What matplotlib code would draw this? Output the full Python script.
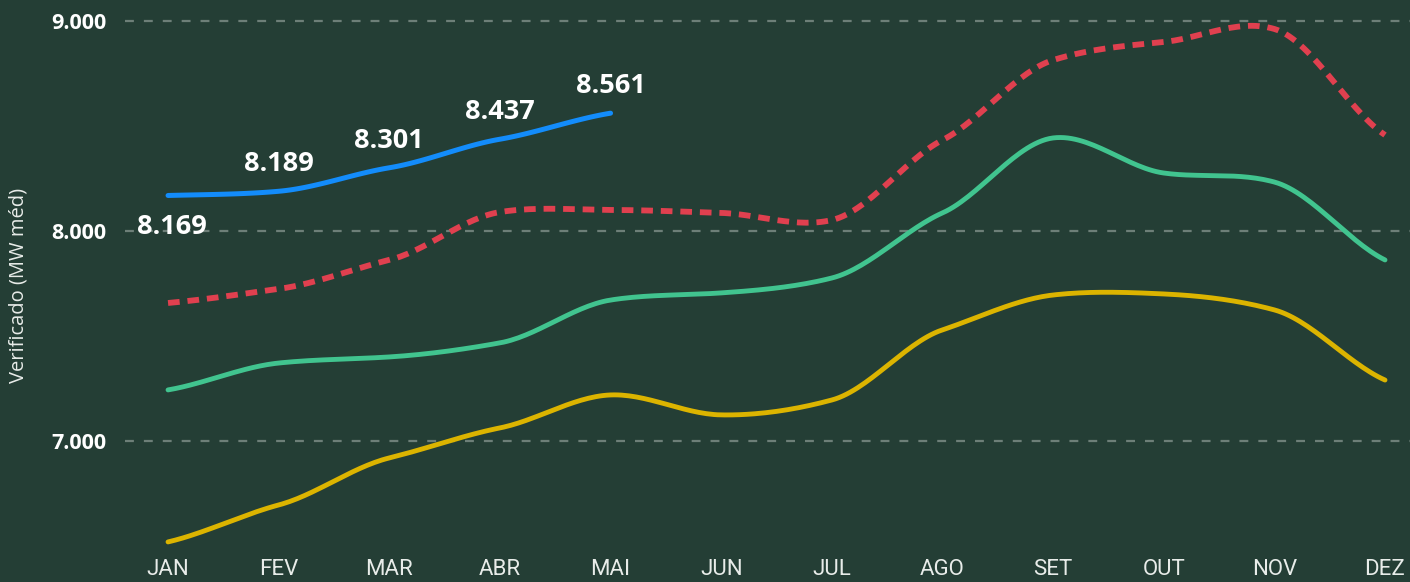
import matplotlib
matplotlib.use("Agg")
import matplotlib.pyplot as plt
import numpy as np

months = ["JAN", "FEV", "MAR", "ABR", "MAI", "JUN", "JUL", "AGO", "SET", "OUT", "NOV", "DEZ"]

verificado = [8169, 8189, 8301, 8437, 8561]
maximo = [7657, 7724, 7862, 8090, 8100, 8086, 8052, 8433, 8814, 8900, 8962, 8457]
medio = [7243, 7371, 7400, 7467, 7671, 7705, 7776, 8086, 8443, 8276, 8233, 7862]
minimo = [6519, 6695, 6919, 7062, 7219, 7124, 7195, 7529, 7695, 7700, 7624, 7290]

yticks = [7000, 8000, 9000]

BG = "#243e35"


def smooth(y, n=30, k=0.7):
    # cubic Hermite curve through the monthly points (drawing only)
    y = np.asarray(y, float)
    x = np.arange(len(y))
    m = np.gradient(y) * k
    xs, ys = [], []
    for i in range(len(y) - 1):
        t = np.linspace(0, 1, n, endpoint=False)
        h00 = 2 * t**3 - 3 * t**2 + 1
        h10 = t**3 - 2 * t**2 + t
        h01 = -2 * t**3 + 3 * t**2
        h11 = t**3 - t**2
        xs.append(x[i] + t)
        ys.append(h00 * y[i] + h10 * m[i] + h01 * y[i + 1] + h11 * m[i + 1])
    xs.append([x[-1]])
    ys.append([y[-1]])
    return np.concatenate(xs), np.concatenate(ys)


fig = plt.figure(figsize=(14.1, 5.82), dpi=100, facecolor=BG)
ax = fig.add_axes([125 / 1410, 30 / 582, 1285 / 1410, 552 / 582], facecolor=BG)

ax.set_xlim(-0.389, 11.226)
ax.set_ylim(6471, 9100)

for v in yticks:
    ax.axhline(v, color="#6d7f78", lw=1.6, ls=(0, (4, 4.5)), zorder=1)

x, y = smooth(minimo)
ax.plot(x, y, color="#dcb400", lw=3.5, solid_capstyle="round", zorder=3)
x, y = smooth(medio)
ax.plot(x, y, color="#41c48f", lw=3.5, solid_capstyle="round", zorder=3)
x, y = smooth(maximo)
ax.plot(x, y, color="#e0404f", lw=4.2, ls=(0, (2.0, 1.35)), zorder=3)
x, y = smooth(verificado)
ax.plot(x, y, color="#138cfb", lw=3.6, solid_capstyle="round", zorder=4)

label_font = ["Open Sans", "DejaVu Sans"]
for i, v in enumerate(verificado):
    txt = f"{v:,}".replace(",", ".")
    if i == 0:
        ax.annotate(txt, (i, v), xytext=(3, -13), textcoords="offset points",
                    ha="center", va="top", color="white", fontsize=19.5,
                    fontweight="bold", family=label_font, zorder=5)
    else:
        ax.annotate(txt, (i, v), xytext=(0, 10), textcoords="offset points",
                    ha="center", va="bottom", color="white", fontsize=19.5,
                    fontweight="bold", family=label_font, zorder=5)

ax.set_xticks(range(len(months)))
ax.set_xticklabels(months, color="#e8ece9", fontsize=16,
                   family=["Roboto", "DejaVu Sans"])
ax.set_yticks(yticks)
ax.set_yticklabels([f"{v:,}".replace(",", ".") for v in yticks], color="white",
                   fontsize=15.5, fontweight="bold", family=label_font)
ax.tick_params(axis="both", length=0)
ax.tick_params(axis="x", pad=5)
ax.tick_params(axis="y", pad=13.5)
for s in ax.spines.values():
    s.set_visible(False)

fig.text(19 / 1410, 1 - 285 / 582, "Verificado (MW méd)", rotation=90,
         ha="center", va="center", color="#e8ece9", fontsize=14.5,
         family=label_font)

fig.savefig("out.png", dpi=100, facecolor=BG)
